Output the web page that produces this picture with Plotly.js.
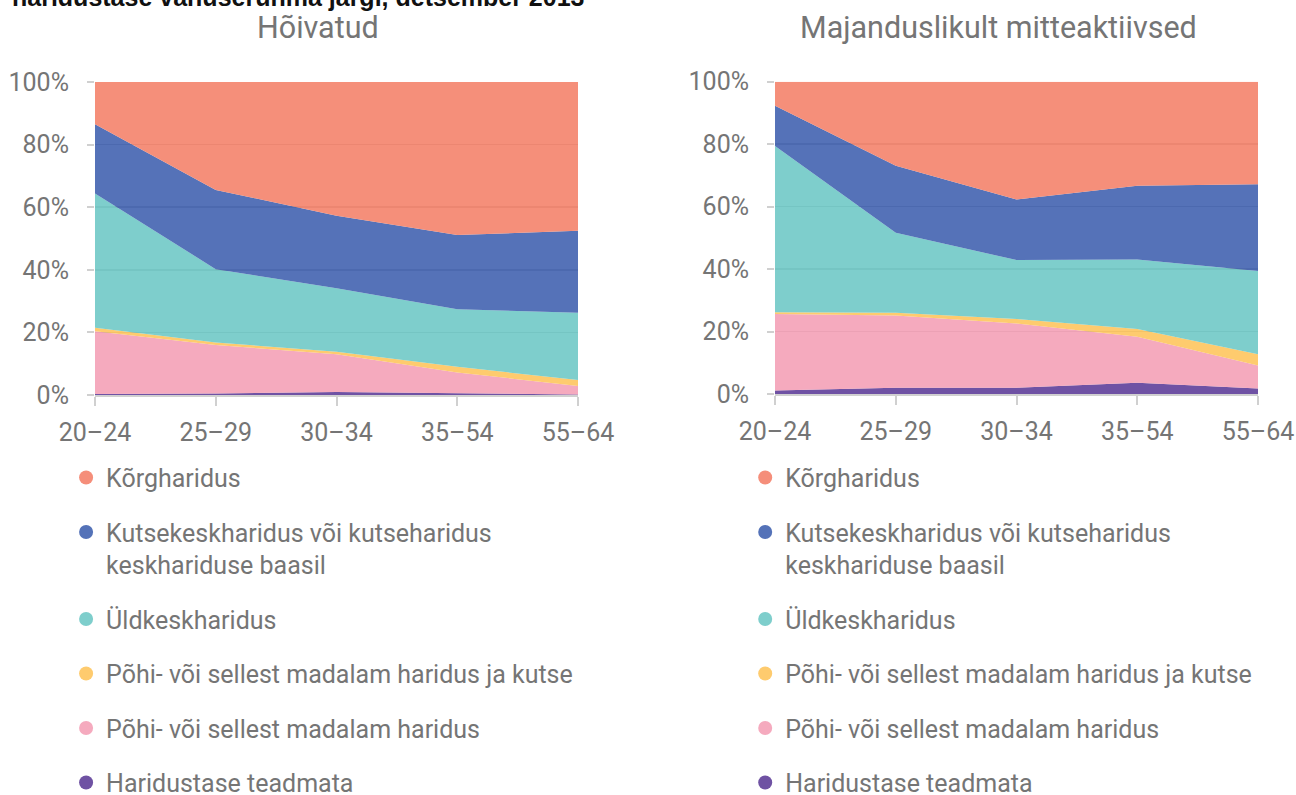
<!DOCTYPE html>
<html>
<head>
<meta charset="utf-8">
<script src="https://cdn.plot.ly/plotly-3.0.1.min.js"></script>
<style>
html,body{margin:0;padding:0;background:#fff;}
#chart{width:1296px;height:795px;}
</style>
</head>
<body>
<div id="chart"></div>
<script>
// Categories (age groups)
const ageGroups = ["20–24", "25–29", "30–34", "35–54", "55–64"];

// Series names (legend order, top to bottom)
const seriesNames = [
  "Kõrgharidus",
  "Kutsekeskharidus või kutseharidus<br>keskhariduse baasil",
  "Üldkeskharidus",
  "Põhi- või sellest madalam haridus ja kutse",
  "Põhi- või sellest madalam haridus",
  "Haridustase teadmata"
];

// Hõivatud (employed), % shares
const empKorg      = [13.5, 34.5, 42.7, 48.9, 47.5];
const empKutsekesk = [22.1, 25.3, 23.2, 23.7, 26.2];
const empYldkesk   = [42.9, 23.4, 20.3, 18.4, 21.5];
const empPohiKutse = [1.1, 0.8, 0.8, 1.8, 1.9];
const empPohi      = [20.1, 15.5, 12.0, 6.7, 2.7];
const empTeadmata  = [0.3, 0.5, 1.0, 0.5, 0.2];

// Majanduslikult mitteaktiivsed (inactive), % shares
const inaKorg      = [7.7, 26.9, 37.7, 33.3, 32.8];
const inaKutsekesk = [12.9, 21.5, 19.4, 23.6, 27.8];
const inaYldkesk   = [53.2, 25.6, 18.9, 22.3, 26.7];
const inaPohiKutse = [0.6, 0.9, 1.4, 2.5, 3.6];
const inaPohi      = [24.5, 23.1, 20.6, 14.7, 7.3];
const inaTeadmata  = [1.1, 2.0, 2.0, 3.6, 1.8];

const yTickVals = [0, 20, 40, 60, 80, 100];
const yTickText = ["0%", "20%", "40%", "60%", "80%", "100%"];

const solidColors = ["#F58E7A", "#5472B8", "#7ECECC", "#FECB6E", "#F5AABE", "#6F52A3"];
const fillColors = [
  "rgba(244,127,104,0.88)",
  "rgba(61,95,174,0.88)",
  "rgba(108,199,197,0.88)",
  "rgba(254,196,90,0.88)",
  "rgba(244,158,181,0.88)",
  "rgba(91,58,151,0.88)"
];

const empSeries = [empKorg, empKutsekesk, empYldkesk, empPohiKutse, empPohi, empTeadmata];
const inaSeries = [inaKorg, inaKutsekesk, inaYldkesk, inaPohiKutse, inaPohi, inaTeadmata];

const traces = [];
// stacked areas, bottom layer first
for (let i = seriesNames.length - 1; i >= 0; i--) {
  traces.push({
    type: "scatter", mode: "lines", x: ageGroups, y: empSeries[i],
    stackgroup: "emp", line: {width: 0}, fillcolor: fillColors[i],
    showlegend: false, hoverinfo: "skip", xaxis: "x", yaxis: "y"
  });
}
for (let i = seriesNames.length - 1; i >= 0; i--) {
  traces.push({
    type: "scatter", mode: "lines", x: ageGroups, y: inaSeries[i],
    stackgroup: "ina", line: {width: 0}, fillcolor: fillColors[i],
    showlegend: false, hoverinfo: "skip", xaxis: "x2", yaxis: "y2"
  });
}
// legend-only entries with round markers
["legend", "legend2"].forEach((lg, k) => {
  seriesNames.forEach((name, i) => {
    traces.push({
      type: "scatter", mode: "markers", x: [ageGroups[0]], y: [null],
      name: name, legend: lg, legendgroup: lg + "_" + i,
      marker: {color: solidColors[i], size: 14, symbol: "circle"},
      showlegend: true, hoverinfo: "skip",
      xaxis: k === 0 ? "x" : "x2", yaxis: k === 0 ? "y" : "y2"
    });
  });
});

const gray = "#757575";
const baseFont = {family: "Roboto, 'Noto Sans', sans-serif", size: 25, color: gray};

function xAxis(domain, anchor) {
  return {
    domain: domain, anchor: anchor, type: "category", range: [0, 4],
    showgrid: false, showline: true, linecolor: "#d0d0d0", linewidth: 2,
    ticks: "outside", ticklen: 9, tickcolor: "#d0d0d0", tickwidth: 2,
    tickfont: baseFont, ticklabelstandoff: 5, fixedrange: true
  };
}
function yAxis(domain, anchor) {
  return {
    domain: domain, anchor: anchor, range: [0, 100],
    tickvals: yTickVals, ticktext: yTickText,
    showgrid: true, gridcolor: "#b0b0b0", gridwidth: 1.5,
    zeroline: false, showline: false,
    ticks: "outside", ticklen: 7, tickcolor: "#d0d0d0", tickwidth: 2,
    tickfont: baseFont, ticklabelstandoff: 13, fixedrange: true
  };
}

const legendBase = {
  font: baseFont, bgcolor: "rgba(0,0,0,0)", traceorder: "grouped", valign: "top",
  tracegroupgap: 19, yanchor: "top", xanchor: "left", itemclick: false, itemdoubleclick: false
};

const layout = {
  width: 1296, height: 795,
  margin: {l: 0, r: 0, t: 0, b: 0, autoexpand: false},
  paper_bgcolor: "#ffffff", plot_bgcolor: "#ffffff",
  font: baseFont,
  xaxis: xAxis([0.0733, 0.446], "y"),
  yaxis: yAxis([0.5031, 0.8969], "x"),
  xaxis2: xAxis([0.598, 0.9707], "y2"),
  yaxis2: yAxis([0.5044, 0.8972], "x2"),
  legend: Object.assign({}, legendBase, {x: 0.051, y: 0.428}),
  legend2: Object.assign({}, legendBase, {x: 0.575, y: 0.428}),
  annotations: [
    {text: "haridustase vanuserühma järgi, detsember 2013", xref: "paper", yref: "paper",
     x: 10/1296, xanchor: "left", y: 1 - 13/795, yanchor: "bottom", showarrow: false,
     font: {family: "'Liberation Sans', Arial, sans-serif", size: 25, color: "#111111", weight: "bold"}},
    {text: "Hõivatud", xref: "paper", yref: "paper", x: 318/1296, xanchor: "center",
     y: 1 - 28/795, yanchor: "middle", showarrow: false,
     font: {family: "Roboto, sans-serif", size: 30.5, color: gray}},
    {text: "Majanduslikult mitteaktiivsed", xref: "paper", yref: "paper", x: 998/1296, xanchor: "center",
     y: 1 - 28/795, yanchor: "middle", showarrow: false,
     font: {family: "Roboto, sans-serif", size: 30.5, color: gray}}
  ],
  hovermode: false
};

Plotly.newPlot("chart", traces, layout, {displayModeBar: false, staticPlot: true});
</script>
</body>
</html>
